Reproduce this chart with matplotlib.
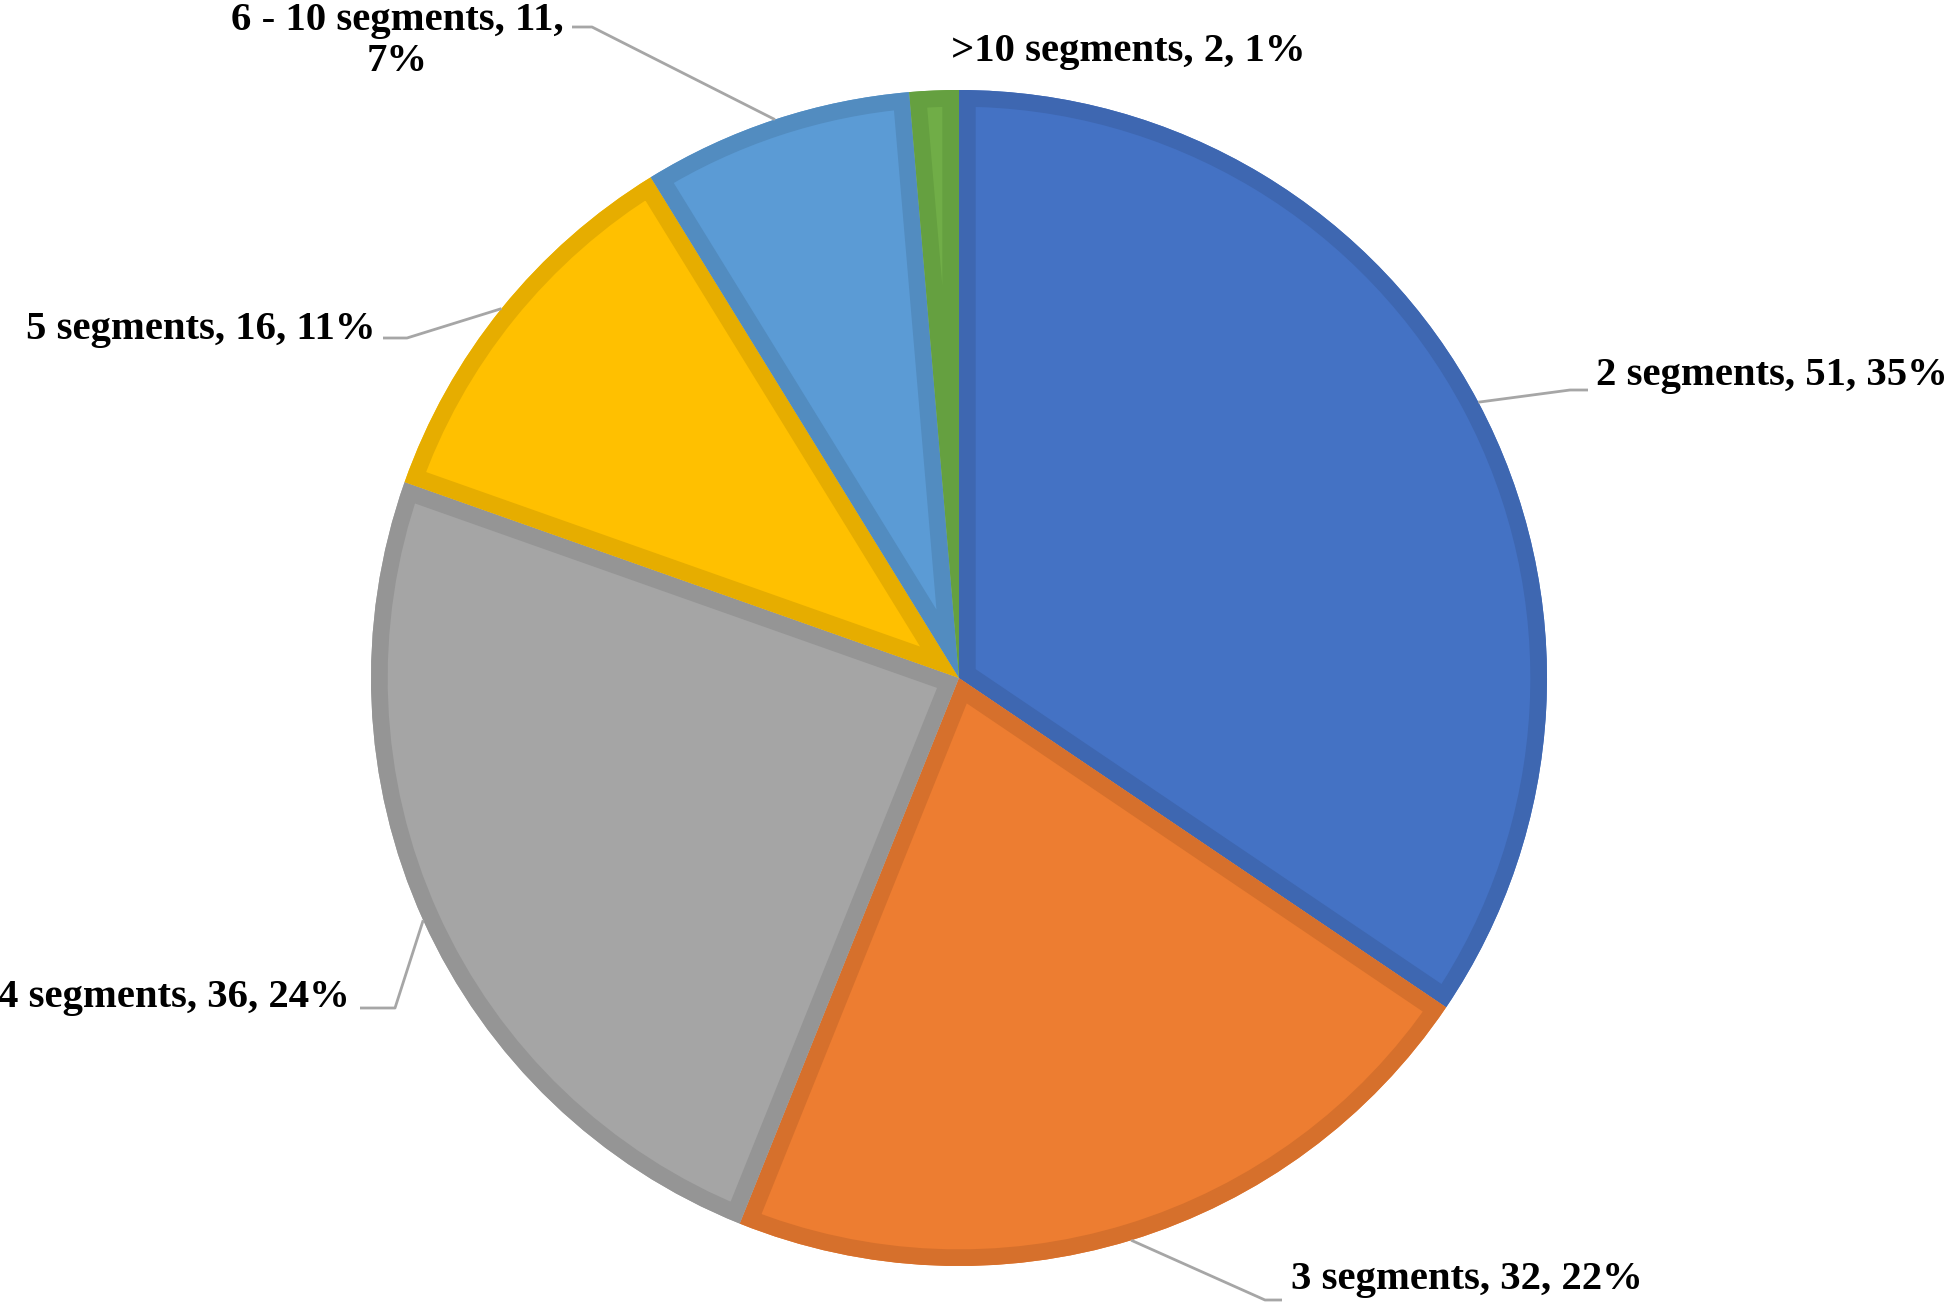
import matplotlib
matplotlib.use("Agg")
import matplotlib.pyplot as plt
import numpy as np
from matplotlib.patches import Wedge

categories = ["2 segments", "3 segments", "4 segments", "5 segments", "6 - 10 segments", ">10 segments"]
values = [51, 32, 36, 16, 11, 2]
percents = ["35%", "22%", "24%", "11%", "7%", "1%"]

fills = ["#4472C4", "#ED7D31", "#A5A5A5", "#FFC000", "#5B9BD5", "#70AD47"]
edges = ["#3E67B1", "#D6702C", "#959595", "#E6AD00", "#528CC0", "#65A040"]

W, H = 1946, 1302
cx, cy, R = 959, 678, 588

fig = plt.figure(figsize=(W / 100, H / 100), dpi=100)
ax = fig.add_axes([(cx - R) / W, (H - cy - R) / H, 2 * R / W, 2 * R / H])

wedges, _ = ax.pie(values, colors=fills, startangle=90, counterclock=False,
                   radius=1, wedgeprops=dict(linewidth=0))
ax.set_xlim(-1, 1)
ax.set_ylim(-1, 1)
ax.set_aspect("equal")
ax.axis("off")

for w, ec in zip(wedges, edges):
    b = Wedge(w.center, w.r, w.theta1, w.theta2, facecolor="none",
              edgecolor=ec, linewidth=24, joinstyle="miter")
    ax.add_patch(b)
    b.set_clip_path(w)


def d(px, py):
    return ((px - cx) / R, (cy - py) / R)


font = dict(family="Liberation Serif", fontweight="bold", fontsize=29.3, color="black")
lead = dict(color="#A6A6A6", lw=2.0, solid_capstyle="butt")

# label layout: (text anchor px, py, ha, elbow px, elbow py, end px)
layout = {
    0: ((1596, 375), "left", (1570, 390), 1588),
    1: ((1291, 1280), "left", (1265, 1300), 1282),
    2: ((350, 997), "right", (395, 1008), 360),
    3: ((376, 330), "right", (407, 338), 383),
    4: ((397, 41), "center", (592, 27), 572),
    5: ((1128, 52), "center", None, None),
}

for i, w in enumerate(wedges):
    mid = np.deg2rad((w.theta1 + w.theta2) / 2)
    ex, ey = np.cos(mid), np.sin(mid)
    (tx, ty), ha, elbow, endx = layout[i]
    if i == 4:
        label = f"{categories[i]}, {values[i]},\n{percents[i]}"
    else:
        label = f"{categories[i]}, {values[i]}, {percents[i]}"
    x, y = d(tx, ty)
    ax.text(x, y, label, ha=ha, va="center", linespacing=1.15, clip_on=False, **font)
    if elbow is not None:
        bx, by = d(*elbow)
        endd, _ = d(endx, elbow[1])
        ax.plot([ex, bx, endd], [ey, by, by], clip_on=False, **lead)

fig.savefig("out.png", dpi=100, facecolor="white")
